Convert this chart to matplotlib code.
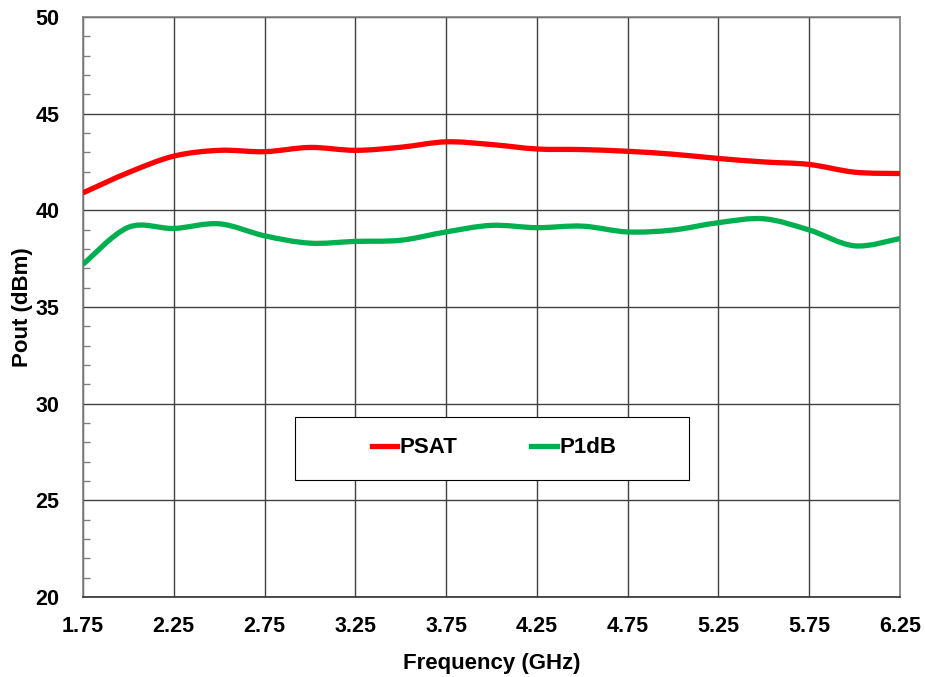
import numpy as np
import matplotlib
matplotlib.use("Agg")
import matplotlib.pyplot as plt
from matplotlib.path import Path
from matplotlib.patches import PathPatch, Rectangle
import matplotlib.lines as mlines

plt.rcParams['font.family'] = ['Liberation Sans', 'DejaVu Sans']
plt.rcParams['font.weight'] = 'bold'

# Output power vs frequency
freq = [1.75, 2.0, 2.25, 2.5, 2.75, 3.0, 3.25, 3.5, 3.75, 4.0,
        4.25, 4.5, 4.75, 5.0, 5.25, 5.5, 5.75, 6.0, 6.25]
psat = [40.9, 41.95, 42.8, 43.1, 43.03, 43.25, 43.1, 43.26, 43.54, 43.4,
        43.17, 43.14, 43.05, 42.9, 42.68, 42.5, 42.37, 41.97, 41.9]
p1db = [37.2, 39.12, 39.06, 39.3, 38.68, 38.3, 38.39, 38.45, 38.88, 39.22,
        39.1, 39.18, 38.88, 38.98, 39.36, 39.56, 38.98, 38.16, 38.54]

x_ticks = [1.75, 2.25, 2.75, 3.25, 3.75, 4.25, 4.75, 5.25, 5.75, 6.25]
y_ticks = [20, 25, 30, 35, 40, 45, 50]


def smooth_path(xs, ys, tension=1 / 6):
    # Catmull-Rom style cubic Bezier through every point (like a smoothed line)
    pts = np.column_stack([np.asarray(xs, float), np.asarray(ys, float)])
    n = len(pts)
    verts = [pts[0]]
    codes = [Path.MOVETO]
    for i in range(n - 1):
        p0 = pts[max(i - 1, 0)]
        p1 = pts[i]
        p2 = pts[i + 1]
        p3 = pts[min(i + 2, n - 1)]
        verts += [p1 + (p2 - p0) * tension, p2 - (p3 - p1) * tension, p2]
        codes += [Path.CURVE4] * 3
    return Path(verts, codes)


fig = plt.figure(figsize=(9.25, 6.77), dpi=100)
ax = fig.add_axes([0.0897, 0.1182, 0.8833, 0.8568])

for ys, color in [(psat, '#FF0000'), (p1db, '#00B050')]:
    patch = PathPatch(smooth_path(freq, ys), facecolor='none', edgecolor=color,
                      linewidth=3.8, capstyle='butt', joinstyle='round', zorder=3)
    ax.add_patch(patch)

ax.set_xlim(1.75, 6.25)
ax.set_ylim(20, 50)
ax.set_xticks(x_ticks)
ax.set_xticklabels([f'{t:.2f}' for t in x_ticks])
ax.set_yticks(y_ticks)
ax.set_yticks(np.arange(20, 50, 1), minor=True)

ax.grid(True, which='major', color='#404040', linewidth=1.0)
ax.tick_params(axis='both', which='major', length=0, labelsize=15.5)
ax.tick_params(axis='y', which='major', pad=17)
ax.tick_params(axis='x', which='major', pad=14)
ax.tick_params(axis='y', which='minor', direction='in', length=5, color='#808080', width=1)
ax.tick_params(axis='x', which='minor', length=0)
for lab in ax.get_xticklabels() + ax.get_yticklabels():
    lab.set_fontweight('bold')

for side in ['left', 'right', 'top']:
    ax.spines[side].set_color('#808080')
    ax.spines[side].set_linewidth(1.2)
ax.spines['bottom'].set_color('#303030')
ax.spines['bottom'].set_linewidth(1.2)

ax.set_xlabel('Frequency (GHz)', fontsize=16, fontweight='bold')
ax.set_ylabel('Pout (dBm)', fontsize=16, fontweight='bold')
ax.xaxis.set_label_coords(0.5, -0.097)
ax.yaxis.set_label_coords(-0.061, 0.5)

# legend box drawn separately so its padding can be set freely
ax.add_patch(Rectangle((0.2595, 0.2017), 0.4822, 0.1086, transform=ax.transAxes,
                       facecolor='white', edgecolor='#000000', linewidth=0.8, zorder=4))
handles = [mlines.Line2D([], [], color='#FF0000', linewidth=3.8, label='PSAT'),
           mlines.Line2D([], [], color='#00B050', linewidth=3.8, label='P1dB')]
leg = ax.legend(handles=handles, loc='center', bbox_to_anchor=(0.503, 0.257),
                ncol=2, frameon=False, prop={'weight': 'bold', 'size': 16},
                handlelength=1.15, handletextpad=0.12, columnspacing=3.3,
                borderpad=0, borderaxespad=0)
leg.set_zorder(5)

fig.savefig('out.png', dpi=100)
